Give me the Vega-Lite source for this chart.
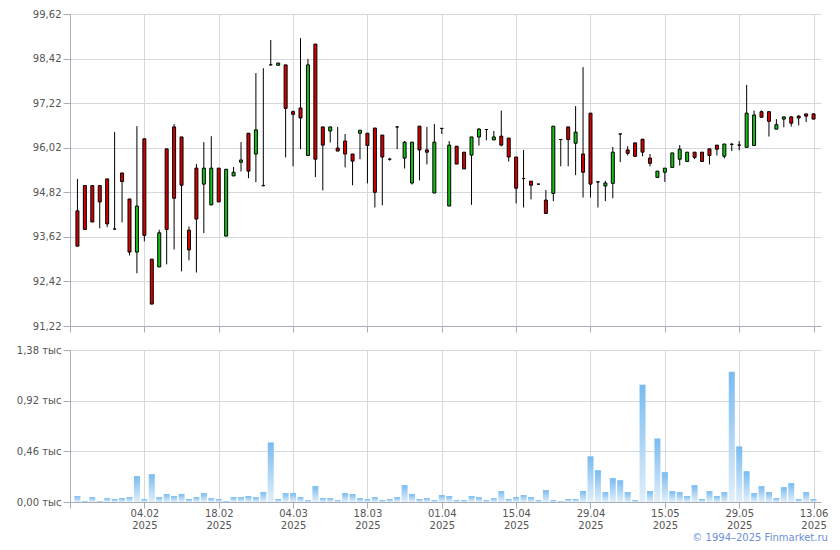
{
  "$schema": "https://vega.github.io/schema/vega-lite/v6.json",
  "padding": {"left": 16, "top": 9, "right": 6, "bottom": 4},
  "background": "white",
  "config": {
    "view": {"stroke": null},
    "axis": {
      "domainColor": "#a9adb8",
      "tickColor": "#a9adb8",
      "gridColor": "#d5d9dd",
      "labelFont": "DejaVu Sans",
      "labelFontSize": 10,
      "labelColor": "#555555",
      "title": null
    }
  },
  "data": {
    "values": [
      {"i": -9, "o": 94.32, "h": 95.18, "l": 93.37, "c": 93.37, "v": 0.054},
      {"i": -8, "o": 95.0, "h": 95.0, "l": 93.82, "c": 93.82, "v": 0.009},
      {"i": -7, "o": 95.0, "h": 95.0, "l": 94.02, "c": 94.02, "v": 0.045},
      {"i": -6, "o": 95.0, "h": 95.0, "l": 93.85, "c": 94.56, "v": 0.009},
      {"i": -5, "o": 95.18, "h": 95.18, "l": 93.88, "c": 93.97, "v": 0.036},
      {"i": -4, "o": 93.83, "h": 96.44, "l": 93.83, "c": 93.83, "v": 0.027},
      {"i": -3, "o": 95.34, "h": 95.34, "l": 94.01, "c": 95.11, "v": 0.036},
      {"i": -2, "o": 94.64, "h": 94.64, "l": 93.12, "c": 93.21, "v": 0.045},
      {"i": -1, "o": 93.21, "h": 96.6, "l": 92.64, "c": 94.45, "v": 0.235},
      {"i": 0, "o": 96.26, "h": 96.26, "l": 93.5, "c": 93.66, "v": 0.027},
      {"i": 1, "o": 93.02, "h": 93.02, "l": 91.81, "c": 91.81, "v": 0.253},
      {"i": 2, "o": 92.81, "h": 93.81, "l": 92.81, "c": 93.73, "v": 0.045},
      {"i": 3, "o": 95.99, "h": 95.99, "l": 92.88, "c": 93.82, "v": 0.072},
      {"i": 4, "o": 96.58, "h": 96.66, "l": 93.28, "c": 94.66, "v": 0.054},
      {"i": 5, "o": 96.31, "h": 96.31, "l": 92.69, "c": 95.01, "v": 0.072},
      {"i": 6, "o": 93.8, "h": 93.9, "l": 92.99, "c": 93.27, "v": 0.027},
      {"i": 7, "o": 95.47, "h": 95.58, "l": 92.66, "c": 94.1, "v": 0.045},
      {"i": 8, "o": 95.04, "h": 96.17, "l": 93.72, "c": 95.47, "v": 0.081},
      {"i": 9, "o": 94.48, "h": 96.33, "l": 94.48, "c": 95.47, "v": 0.036},
      {"i": 10, "o": 95.47, "h": 95.47, "l": 94.56, "c": 94.56, "v": 0.027},
      {"i": 11, "o": 93.64, "h": 95.44, "l": 93.64, "c": 95.44, "v": 0.009},
      {"i": 12, "o": 95.26, "h": 95.5, "l": 95.26, "c": 95.36, "v": 0.045},
      {"i": 13, "o": 95.63, "h": 96.17, "l": 95.38, "c": 95.69, "v": 0.045},
      {"i": 14, "o": 96.41, "h": 96.41, "l": 95.2, "c": 95.39, "v": 0.054},
      {"i": 15, "o": 95.85, "h": 98.03, "l": 95.09, "c": 96.5, "v": 0.045},
      {"i": 16, "o": 95.0, "h": 98.16, "l": 94.98, "c": 95.0, "v": 0.09},
      {"i": 17, "o": 98.25, "h": 98.92, "l": 98.25, "c": 98.25, "v": 0.541},
      {"i": 18, "o": 98.24, "h": 98.3, "l": 98.24, "c": 98.3, "v": 0.027},
      {"i": 19, "o": 98.25, "h": 98.25, "l": 95.76, "c": 97.08, "v": 0.081},
      {"i": 20, "o": 96.99, "h": 97.02, "l": 95.52, "c": 96.92, "v": 0.081},
      {"i": 21, "o": 97.09, "h": 98.97, "l": 95.98, "c": 96.82, "v": 0.045},
      {"i": 22, "o": 95.81, "h": 98.41, "l": 95.81, "c": 98.25, "v": 0.018},
      {"i": 23, "o": 98.81, "h": 98.81, "l": 95.23, "c": 95.71, "v": 0.144},
      {"i": 24, "o": 96.58, "h": 96.58, "l": 94.87, "c": 96.09, "v": 0.036},
      {"i": 25, "o": 96.47, "h": 96.58, "l": 96.16, "c": 96.58, "v": 0.036},
      {"i": 26, "o": 96.01, "h": 96.58, "l": 95.93, "c": 95.93, "v": 0.018},
      {"i": 27, "o": 96.2, "h": 96.39, "l": 95.49, "c": 95.85, "v": 0.081},
      {"i": 28, "o": 95.85, "h": 95.85, "l": 95.01, "c": 95.66, "v": 0.072},
      {"i": 29, "o": 96.41, "h": 96.49, "l": 95.71, "c": 96.49, "v": 0.036},
      {"i": 30, "o": 96.41, "h": 96.41, "l": 95.06, "c": 96.08, "v": 0.027},
      {"i": 31, "o": 96.55, "h": 96.55, "l": 94.41, "c": 94.82, "v": 0.045},
      {"i": 32, "o": 96.36, "h": 96.36, "l": 94.47, "c": 95.77, "v": 0.018},
      {"i": 33, "o": 95.71, "h": 95.75, "l": 95.67, "c": 95.71, "v": 0.027},
      {"i": 34, "o": 96.58, "h": 96.58, "l": 95.98, "c": 96.58, "v": 0.045},
      {"i": 35, "o": 95.74, "h": 96.2, "l": 95.46, "c": 96.17, "v": 0.153},
      {"i": 36, "o": 95.07, "h": 96.17, "l": 95.03, "c": 96.17, "v": 0.072},
      {"i": 37, "o": 96.6, "h": 96.6, "l": 95.14, "c": 95.96, "v": 0.027},
      {"i": 38, "o": 95.96, "h": 96.58, "l": 95.57, "c": 95.9, "v": 0.036},
      {"i": 39, "o": 94.8, "h": 96.66, "l": 94.8, "c": 96.17, "v": 0.018},
      {"i": 40, "o": 96.54, "h": 96.54, "l": 96.39, "c": 96.54, "v": 0.063},
      {"i": 41, "o": 94.45, "h": 96.2, "l": 94.45, "c": 96.09, "v": 0.054},
      {"i": 42, "o": 96.06, "h": 96.06, "l": 95.58, "c": 95.58, "v": 0.018},
      {"i": 43, "o": 95.9, "h": 95.9, "l": 95.45, "c": 95.45, "v": 0.018},
      {"i": 44, "o": 95.82, "h": 96.31, "l": 94.48, "c": 96.31, "v": 0.054},
      {"i": 45, "o": 96.31, "h": 96.55, "l": 96.08, "c": 96.52, "v": 0.045},
      {"i": 46, "o": 96.51, "h": 96.51, "l": 96.22, "c": 96.51, "v": 0.018},
      {"i": 47, "o": 96.23, "h": 96.47, "l": 96.23, "c": 96.31, "v": 0.036},
      {"i": 48, "o": 96.33, "h": 97.02, "l": 96.06, "c": 96.09, "v": 0.099},
      {"i": 49, "o": 96.28, "h": 96.28, "l": 95.65, "c": 95.77, "v": 0.027},
      {"i": 50, "o": 95.77, "h": 95.77, "l": 94.52, "c": 94.93, "v": 0.045},
      {"i": 51, "o": 95.19, "h": 95.96, "l": 94.41, "c": 95.19, "v": 0.063},
      {"i": 52, "o": 95.12, "h": 95.12, "l": 94.63, "c": 95.01, "v": 0.045},
      {"i": 53, "o": 95.04, "h": 95.04, "l": 95.04, "c": 95.04, "v": 0.018},
      {"i": 54, "o": 94.61, "h": 94.88, "l": 94.25, "c": 94.25, "v": 0.108},
      {"i": 55, "o": 94.79, "h": 96.6, "l": 94.58, "c": 96.6, "v": 0.018},
      {"i": 56, "o": 96.24, "h": 96.24, "l": 95.52, "c": 96.24, "v": 0.009},
      {"i": 57, "o": 96.58, "h": 96.58, "l": 95.52, "c": 96.24, "v": 0.027},
      {"i": 58, "o": 96.14, "h": 97.14, "l": 95.28, "c": 96.44, "v": 0.027},
      {"i": 59, "o": 95.85, "h": 98.19, "l": 94.68, "c": 95.36, "v": 0.099},
      {"i": 60, "o": 96.95, "h": 96.95, "l": 94.68, "c": 95.04, "v": 0.415},
      {"i": 61, "o": 95.1, "h": 95.1, "l": 94.41, "c": 95.1, "v": 0.289},
      {"i": 62, "o": 94.99, "h": 95.13, "l": 94.58, "c": 95.07, "v": 0.09},
      {"i": 63, "o": 95.06, "h": 96.04, "l": 94.66, "c": 95.9, "v": 0.217},
      {"i": 64, "o": 96.39, "h": 96.39, "l": 95.63, "c": 96.39, "v": 0.198},
      {"i": 65, "o": 95.96, "h": 96.06, "l": 95.81, "c": 95.87, "v": 0.09},
      {"i": 66, "o": 96.15, "h": 96.15, "l": 95.77, "c": 95.79, "v": 0.018},
      {"i": 67, "o": 96.25, "h": 96.25, "l": 95.79, "c": 95.9, "v": 1.065},
      {"i": 68, "o": 95.74, "h": 95.85, "l": 95.52, "c": 95.6, "v": 0.099},
      {"i": 69, "o": 95.22, "h": 95.39, "l": 95.22, "c": 95.39, "v": 0.577},
      {"i": 70, "o": 95.36, "h": 95.47, "l": 95.1, "c": 95.47, "v": 0.271},
      {"i": 71, "o": 95.49, "h": 95.88, "l": 95.49, "c": 95.88, "v": 0.099},
      {"i": 72, "o": 95.71, "h": 96.09, "l": 95.54, "c": 95.98, "v": 0.09},
      {"i": 73, "o": 95.65, "h": 95.9, "l": 95.65, "c": 95.9, "v": 0.054},
      {"i": 74, "o": 95.9, "h": 95.9, "l": 95.71, "c": 95.76, "v": 0.153},
      {"i": 75, "o": 95.9, "h": 95.9, "l": 95.65, "c": 95.65, "v": 0.027},
      {"i": 76, "o": 95.99, "h": 95.99, "l": 95.57, "c": 95.81, "v": 0.099},
      {"i": 77, "o": 96.09, "h": 96.09, "l": 95.81, "c": 95.98, "v": 0.054},
      {"i": 78, "o": 95.79, "h": 96.12, "l": 95.73, "c": 96.12, "v": 0.09},
      {"i": 79, "o": 96.11, "h": 96.15, "l": 95.93, "c": 96.11, "v": 1.182},
      {"i": 80, "o": 96.09, "h": 96.2, "l": 95.95, "c": 96.09, "v": 0.505},
      {"i": 81, "o": 96.03, "h": 97.71, "l": 96.03, "c": 96.95, "v": 0.28},
      {"i": 82, "o": 96.08, "h": 97.02, "l": 96.08, "c": 96.9, "v": 0.081},
      {"i": 83, "o": 96.99, "h": 97.02, "l": 96.84, "c": 96.84, "v": 0.144},
      {"i": 84, "o": 96.99, "h": 96.99, "l": 96.32, "c": 96.73, "v": 0.09},
      {"i": 85, "o": 96.52, "h": 96.79, "l": 96.52, "c": 96.64, "v": 0.036},
      {"i": 86, "o": 96.79, "h": 96.85, "l": 96.57, "c": 96.85, "v": 0.135},
      {"i": 87, "o": 96.85, "h": 96.87, "l": 96.59, "c": 96.68, "v": 0.171},
      {"i": 88, "o": 96.87, "h": 96.9, "l": 96.62, "c": 96.82, "v": 0.027},
      {"i": 89, "o": 96.93, "h": 96.93, "l": 96.71, "c": 96.87, "v": 0.09},
      {"i": 90, "o": 96.93, "h": 96.95, "l": 96.79, "c": 96.79, "v": 0.027}
    ]
  },
  "spacing": 12,
  "title": {
    "text": "© 1994–2025 Finmarket.ru",
    "orient": "bottom",
    "anchor": "end",
    "font": "DejaVu Sans",
    "fontSize": 10,
    "fontWeight": "normal",
    "color": "#6b8fd8",
    "offset": 3
  },
  "vconcat": [
    {
      "width": 751,
      "height": 312,
      "encoding": {
        "x": {
          "field": "i",
          "type": "quantitative",
          "scale": {"domain": [-10, 91], "nice": false, "zero": false, "padding": 0},
          "axis": {
            "values": [-10, 0, 10, 20, 30, 40, 50, 60, 70, 80, 90],
            "labels": false,
            "grid": true,
            "tickSize": 6
          }
        }
      },
      "layer": [
        {
          "mark": {"type": "rule", "color": "black", "strokeWidth": 1},
          "encoding": {
            "y": {
              "field": "l",
              "type": "quantitative",
              "scale": {"domain": [91.22, 99.62], "nice": false, "zero": false},
              "axis": {
                "values": [91.22, 92.42, 93.62, 94.82, 96.02, 97.22, 98.42, 99.62],
                "labelExpr": "replace(format(datum.value, '.2f'), '.', ',')",
                "tickSize": 7,
                "labelPadding": 2,
                "minExtent": 54,
                "maxExtent": 54,
                "grid": true
              }
            },
            "y2": {"field": "h"}
          }
        },
        {
          "mark": {"type": "bar", "size": 3, "stroke": "black", "strokeWidth": 1},
          "encoding": {
            "y": {"field": "o", "type": "quantitative"},
            "y2": {"field": "c"},
            "fill": {
              "condition": {"test": "datum.o > datum.c", "value": "#d40000"},
              "value": "#14c014"
            }
          }
        }
      ]
    },
    {
      "width": 751,
      "height": 152,
      "mark": {
        "type": "bar",
        "size": 6,
        "color": {
          "gradient": "linear",
          "x1": 0, "y1": 0, "x2": 0, "y2": 1,
          "stops": [
            {"offset": 0, "color": "#78bbf0"},
            {"offset": 1, "color": "#e2effb"}
          ]
        }
      },
      "encoding": {
        "x": {
          "field": "i",
          "type": "quantitative",
          "scale": {"domain": [-10, 91], "nice": false, "zero": false, "padding": 0},
          "axis": {
            "values": [-10, 0, 10, 20, 30, 40, 50, 60, 70, 80, 90],
            "labelExpr": "datum.value < 0 ? '' : [['04.02','18.02','04.03','18.03','01.04','15.04','29.04','15.05','29.05','13.06'][round(datum.value / 10)], '2025']",
            "labelOverlap": false,
            "labelLineHeight": 12,
            "labelPadding": 0,
            "grid": true,
            "tickSize": 6
          }
        },
        "y": {
          "field": "v",
          "type": "quantitative",
          "scale": {"domain": [0, 1.38], "nice": false},
          "axis": {
            "values": [0, 0.46, 0.92, 1.38],
            "labelExpr": "replace(format(datum.value, '.2f'), '.', ',') + ' тыс'",
            "tickSize": 7,
            "labelPadding": 2,
            "minExtent": 54,
            "maxExtent": 54,
            "grid": true
          }
        }
      }
    }
  ]
}
